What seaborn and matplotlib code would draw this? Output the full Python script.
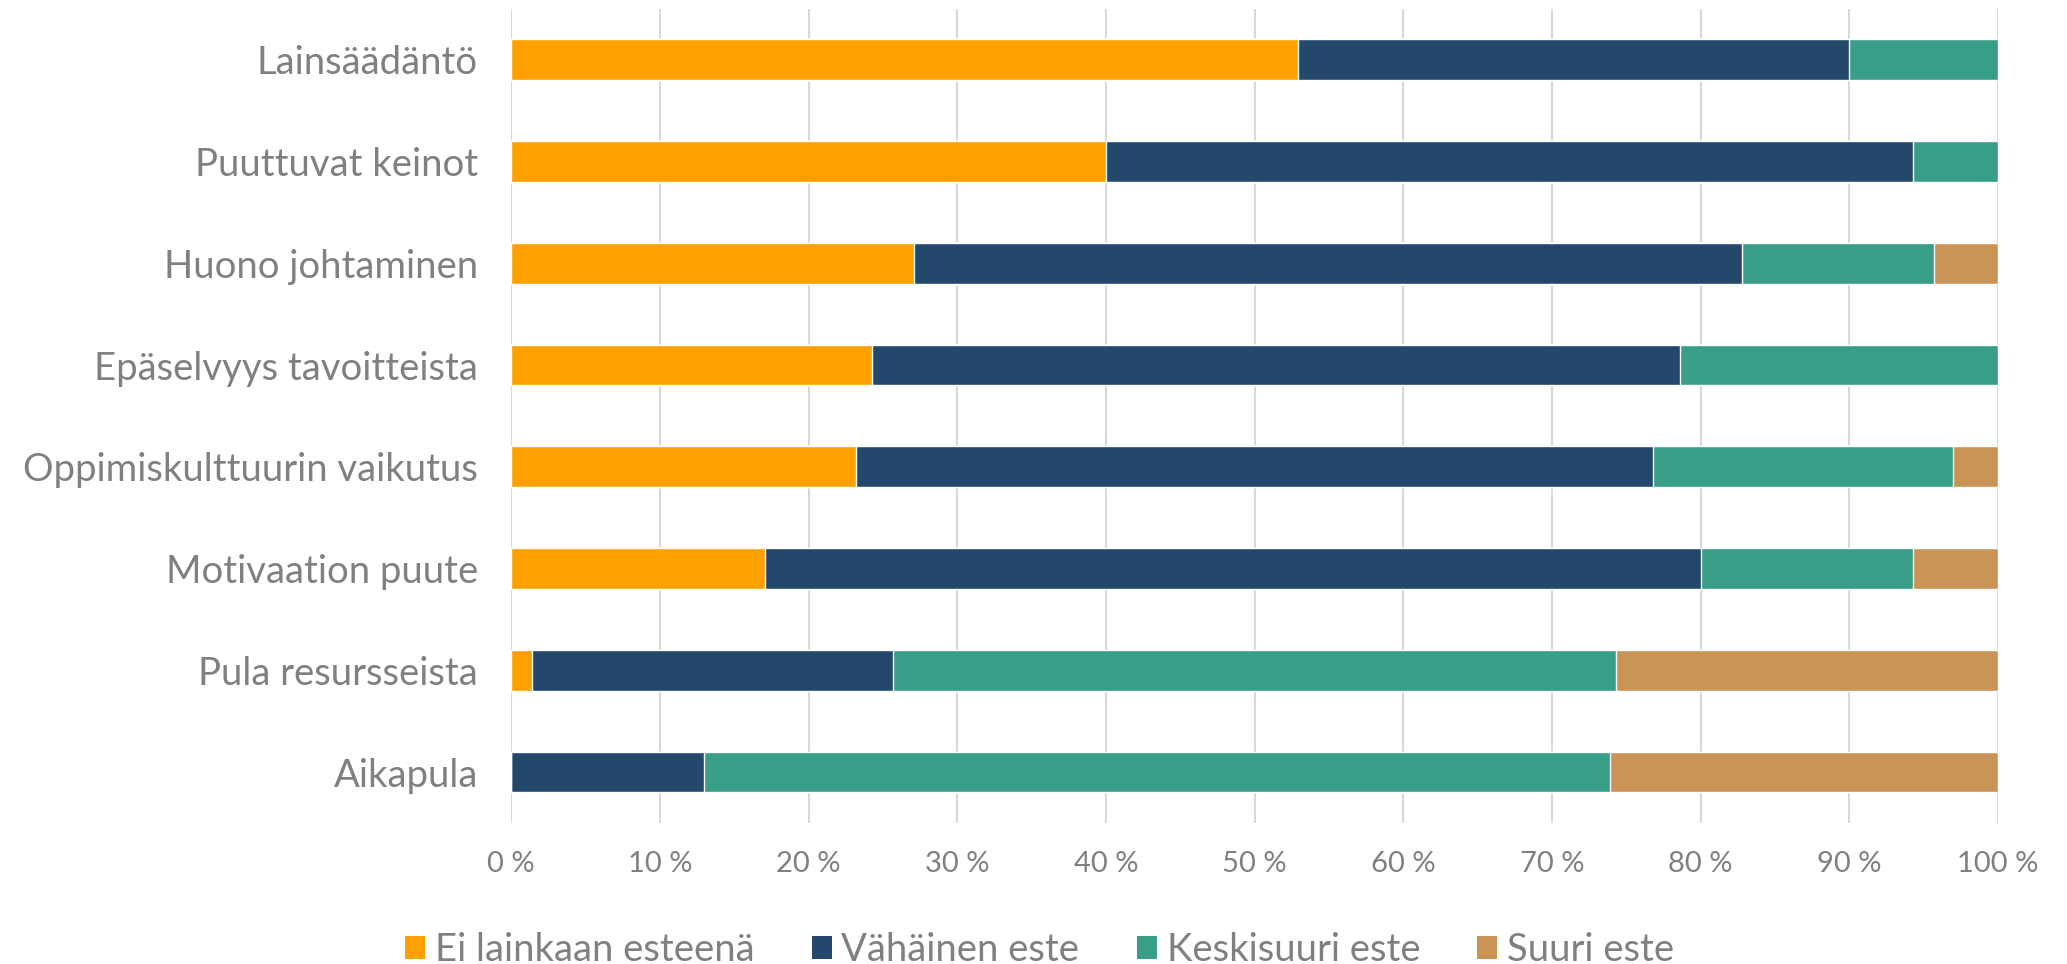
import matplotlib
matplotlib.use("Agg")
import matplotlib.pyplot as plt
from matplotlib.patches import Patch
import numpy as np
import pandas as pd
import seaborn as sns

# data (percent of respondents)
categories = [
    "Lainsäädäntö",
    "Puuttuvat keinot",
    "Huono johtaminen",
    "Epäselvyys tavoitteista",
    "Oppimiskulttuurin vaikutus",
    "Motivaation puute",
    "Pula resursseista",
    "Aikapula",
]
series_names = ["Ei lainkaan esteenä", "Vähäinen este", "Keskisuuri este", "Suuri este"]
ei_lainkaan = [52.9, 40.0, 27.1, 24.3, 23.2, 17.1, 1.4, 0.0]
vahainen = [37.1, 54.3, 55.7, 54.3, 53.6, 62.9, 24.3, 13.0]
keskisuuri = [10.0, 5.7, 12.9, 21.4, 20.2, 14.3, 48.6, 60.9]
suuri = [0.0, 0.0, 4.3, 0.0, 3.0, 5.7, 25.7, 26.1]
xticks = [0, 10, 20, 30, 40, 50, 60, 70, 80, 90, 100]

colors = ["#FFA000", "#24486C", "#389E87", "#C99455"]
text_col = "#808080"

df = pd.DataFrame(
    {"cat": categories, series_names[0]: ei_lainkaan, series_names[1]: vahainen,
     series_names[2]: keskisuuri, series_names[3]: suuri}
)
cum = df[series_names].cumsum(axis=1)

sns.set_theme(style="white")
plt.rcParams["font.family"] = ["Lato", "DejaVu Sans"]

fig = plt.figure(figsize=(20.67, 9.64), dpi=100)
ax = fig.add_axes([0.2473, 0.1463, 0.9666 - 0.2473, 0.9907 - 0.1463])

# stacked bars: draw cumulative totals back to front
for name, col in reversed(list(zip(series_names, colors))):
    sns.barplot(data=cum.assign(cat=df["cat"]), x=name, y="cat", order=categories,
                color=col, width=0.4, saturation=1, orient="h", ax=ax, zorder=2)

ax.set_xlim(0, 100)
ax.set_ylim(7.5, -0.5)
ax.set_xticks(xticks)
ax.set_xticklabels([f"{t} %" for t in xticks])
ax.xaxis.grid(True, color="#D9D9D9", lw=1.5, zorder=0)
ax.set_axisbelow(True)
ax.set_xlabel("")
ax.set_ylabel("")
sns.despine(ax=ax, left=True, bottom=True)
ax.tick_params(axis="y", length=0, pad=24, labelsize=27.5, labelcolor=text_col)
ax.tick_params(axis="x", length=0, pad=20, labelsize=21, labelcolor=text_col)

handles = [Patch(facecolor=c, edgecolor="none") for c in colors]
leg = fig.legend(handles, series_names, loc="center", bbox_to_anchor=(0.503, 0.0145),
                 ncol=4, frameon=False, fontsize=27.5, handlelength=0.52, handleheight=0.52,
                 handletextpad=0.26, columnspacing=1.5, borderaxespad=0, borderpad=0)
for t in leg.get_texts():
    t.set_color(text_col)

fig.savefig("out.png", dpi=100)
